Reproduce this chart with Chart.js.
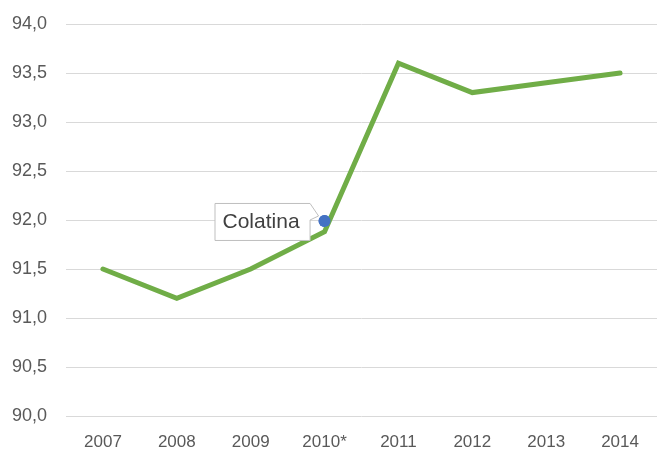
<!DOCTYPE html>
<html>
<head>
<meta charset="utf-8">
<script src="https://cdn.jsdelivr.net/npm/chart.js@4"></script>
<style>
  html, body { margin: 0; padding: 0; background: #fff; }
  #wrap { width: 657px; height: 453px; }
</style>
</head>
<body>
<div id="wrap"><canvas id="lineChart"></canvas></div>
<script>
const years = ['2007', '2008', '2009', '2010*', '2011', '2012', '2013', '2014'];
const values = [91.5, 91.2, 91.5, 91.88, 93.6, 93.3, 93.4, 93.5];
const colatina = [null, null, null, 91.99, null, null, null, null];
const calloutText = 'Colatina';
const yTicks = { min: 90, max: 94, step: 0.5 };

// callout box next to the highlighted point
const calloutPlugin = {
  id: 'callout',
  afterDatasetsDraw(chart) {
    const meta = chart.getDatasetMeta(1);
    const idx = colatina.findIndex(v => v !== null);
    const pt = meta.data[idx];
    if (!pt) return;
    const ctx = chart.ctx;
    ctx.save();
    ctx.font = '21px "Liberation Sans", Arial, sans-serif';
    const w = ctx.measureText(calloutText).width + 18;
    const h = 37;
    const right = pt.x - 15;
    const left = right - w;
    const top = pt.y - 18;
    const bottom = top + h;
    ctx.beginPath();
    ctx.moveTo(left + 0.5, top + 0.5);
    ctx.lineTo(right + 0.5, top + 0.5);
    ctx.lineTo(pt.x - 6, pt.y - 5);
    ctx.lineTo(right + 0.5, top + 17);
    ctx.lineTo(right + 0.5, bottom + 0.5);
    ctx.lineTo(left + 0.5, bottom + 0.5);
    ctx.closePath();
    ctx.fillStyle = '#ffffff';
    ctx.fill();
    ctx.strokeStyle = '#bfbfbf';
    ctx.lineWidth = 1;
    ctx.stroke();
    ctx.fillStyle = '#404040';
    ctx.textBaseline = 'middle';
    ctx.fillText(calloutText, left + 8, top + h / 2 + 1);
    // redraw point on top
    ctx.beginPath();
    ctx.arc(pt.x, pt.y, 6, 0, Math.PI * 2);
    ctx.fillStyle = '#4472c4';
    ctx.fill();
    ctx.restore();
  }
};

new Chart(document.getElementById('lineChart'), {
  type: 'line',
  data: {
    labels: years,
    datasets: [{
      data: values,
      borderColor: '#70ad47',
      borderWidth: 5,
      borderCapStyle: 'round',
      pointRadius: 0,
      tension: 0,
      fill: false
    }, {
      data: colatina,
      showLine: false,
      pointRadius: 6,
      pointHoverRadius: 6,
      pointBackgroundColor: '#4472c4',
      pointBorderWidth: 0
    }]
  },
  options: {
    responsive: true,
    maintainAspectRatio: false,
    animation: false,
    layout: { autoPadding: false, padding: { top: 24, right: 0, bottom: 0, left: 0 } },
    plugins: { legend: { display: false }, tooltip: { enabled: false } },
    scales: {
      x: {
        offset: true,
        grid: { display: false },
        border: { display: false },
        ticks: { color: '#595959', font: { family: 'Liberation Sans', size: 17 }, padding: 8 },
        afterFit(scale) { scale.height = 37; scale.paddingRight = 0; scale.paddingLeft = 0; }
      },
      y: {
        min: yTicks.min,
        max: yTicks.max,
        grid: { color: '#d9d9d9', lineWidth: 1, drawTicks: false },
        border: { display: false },
        ticks: {
          stepSize: yTicks.step,
          color: '#595959',
          font: { family: 'Liberation Sans', size: 18 },
          padding: 19,
          callback: v => v.toFixed(1).replace('.', ',')
        },
        afterFit(scale) { scale.width = 66; scale.paddingTop = 0; scale.paddingBottom = 0; }
      }
    }
  },
  plugins: [calloutPlugin]
});
</script>
</body>
</html>
